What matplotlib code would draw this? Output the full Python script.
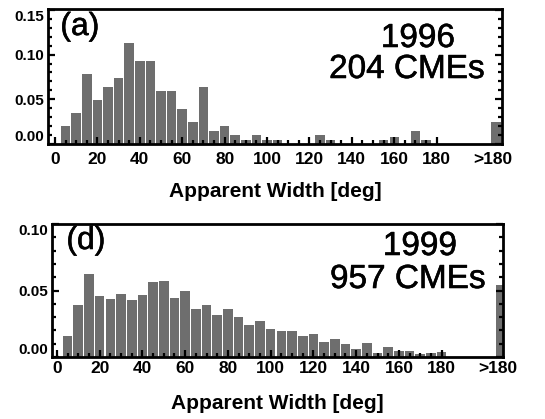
import numpy as np
import matplotlib
matplotlib.use("Agg")
import matplotlib.pyplot as plt
import matplotlib.patheffects as pe
from matplotlib.ticker import MultipleLocator, FixedLocator, FormatStrFormatter

plt.rcParams['font.family'] = ['Liberation Sans', 'DejaVu Sans']

# bin centres (deg); the last bin holds everything wider than 180 deg
bin_centers = [5, 10, 15, 20, 25, 30, 35, 40, 45, 50, 55, 60,
               65, 70, 75, 80, 85, 90, 95, 100, 105, 110, 115, 120,
               125, 130, 135, 140, 145, 150, 155, 160, 165, 170, 175, 180]
wide_pos = 208
tick_vals = [0, 20, 40, 60, 80, 100, 120, 140, 160, 180, 206.5]
tick_labels = ["0", "20", "40", "60", "80", "100", "120", "140", "160", "180", ">180"]

# 1996, 204 CMEs (fraction of events)
frac_1996 = [0.0196, 0.0343, 0.0784, 0.0490, 0.0637, 0.0735, 0.1127, 0.0931, 0.0931, 0.0588, 0.0588, 0.0392,
             0.0245, 0.0637, 0.0147, 0.0196, 0.0098, 0.0049, 0.0098, 0.0049, 0.0049, 0.0, 0.0, 0.0,
             0.0098, 0.0049, 0.0, 0.0, 0.0, 0.0, 0.0049, 0.0075, 0.0, 0.0147, 0.0049, 0.0]
wide_1996 = 0.0245

# 1999, 957 CMEs
frac_1999 = [0.0161, 0.0394, 0.0626, 0.0455, 0.0433, 0.0470, 0.0425, 0.0465, 0.0561, 0.0575, 0.0444, 0.0500,
             0.0359, 0.0390, 0.0317, 0.0361, 0.0297, 0.0243, 0.0274, 0.0211, 0.0192, 0.0192, 0.0161, 0.0170,
             0.0116, 0.0139, 0.0097, 0.0062, 0.0108, 0.0030, 0.0074, 0.0044, 0.0044, 0.0025, 0.0033, 0.0040]
wide_1999 = 0.054

W, H = 545, 419
fig = plt.figure(figsize=(W / 100, H / 100), dpi=100)
bar_color = "#6e6e6e"
heavy = [pe.withStroke(linewidth=0.4, foreground='black')]


def px_box(left, top, right, bottom):
    return [left / W, 1 - bottom / H, (right - left) / W, (bottom - top) / H]


def panel(box, xlim, vals, wide, ymax, tag, year, count, tag_xy, year_xy, count_xy, xpad, label_y):
    ax = fig.add_axes(px_box(*box))
    ax.bar(bin_centers, vals, width=4.5, color=bar_color, linewidth=0)
    ax.bar([wide_pos], [wide], width=5, color=bar_color, linewidth=0)
    ax.set_xlim(*xlim)
    ax.set_ylim(0, ymax)

    ax.set_xticks(tick_vals)
    ax.set_xticklabels(tick_labels)
    ax.xaxis.set_minor_locator(FixedLocator([v for v in range(0, 185, 5) if v % 20 != 0]))
    xt = ax.get_xticklines()
    # no tick mark under the >180 label
    xt[-2].set_visible(False)
    xt[-1].set_visible(False)

    yt = [v for v in [0.0, 0.05, 0.10, 0.15] if v <= ymax + 1e-9]
    ax.set_yticks(yt)
    ax.yaxis.set_minor_locator(MultipleLocator(0.01))
    ax.yaxis.set_major_formatter(FormatStrFormatter('%.2f'))

    ax.tick_params(which='both', direction='in', top=False, right=True, width=1.6, color='black')
    ax.tick_params(which='major', length=5)
    ax.tick_params(which='minor', length=3)
    ax.tick_params(axis='x', which='major', labelsize=12.5, pad=xpad)
    ax.tick_params(axis='y', which='major', labelsize=11, pad=3)
    for lab in ax.get_xticklabels() + ax.get_yticklabels():
        lab.set_fontweight('bold')
    ylabs = ax.get_yticklabels()
    # end labels sit inside the axis range, as in the original
    ylabs[0].set_verticalalignment('bottom')
    ylabs[-1].set_verticalalignment('top')
    for sp in ax.spines.values():
        sp.set_linewidth(2)

    ax.set_xlabel("Apparent Width [deg]", fontsize=15, fontweight='bold')
    ax.xaxis.set_label_coords(0.5, label_y)

    fig.text(tag_xy[0] / W, 1 - tag_xy[1] / H, tag, fontsize=23, ha='center', va='center',
             path_effects=heavy)
    fig.text(year_xy[0] / W, 1 - year_xy[1] / H, year, fontsize=24, ha='center', va='baseline',
             path_effects=heavy)
    fig.text(count_xy[0] / W, 1 - count_xy[1] / H, count, fontsize=24, ha='center', va='baseline',
             path_effects=heavy)
    return ax


panel((48, 9, 502, 144), (-3.3, 210.8), frac_1996, wide_1996, 0.151,
      "(a)", "1996", "204 CMEs", (80, 27), (418, 47), (407, 78), 6, -0.282)
panel((52, 224, 503, 357), (-2.3, 208.7), frac_1999, wide_1999, 0.10,
      "(d)", "1999", "957 CMEs", (86, 241), (420, 255), (408, 288), 3, -0.275)

fig.savefig("out.png", dpi=100)
